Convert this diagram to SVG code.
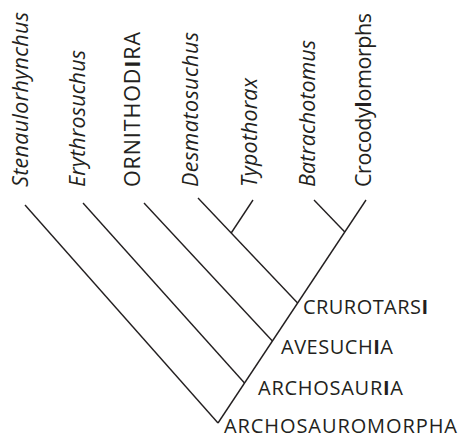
<svg xmlns="http://www.w3.org/2000/svg" width="460" height="438" viewBox="0 0 460 438">
<style>
.bg{fill:#ffffff}
.ln{stroke:#231f20;stroke-width:1.4;fill:none;stroke-linecap:butt}
.lbl{font-family:"Open Sans","Liberation Sans",sans-serif;fill:#231f20}
.tax{font-size:21.5px}
.it{font-style:italic}
.clade{font-size:20px}
.b{font-weight:bold}
</style>
<rect class="bg" x="0" y="0" width="460" height="438"/>
<g id="connectors">
<line class="ln" x1="218" y1="423" x2="366" y2="200"/>
<line class="ln" x1="25" y1="205" x2="218" y2="423"/>
<line class="ln" x1="83" y1="203" x2="244.5" y2="383"/>
<line class="ln" x1="144" y1="203" x2="272.4" y2="341"/>
<line class="ln" x1="198" y1="198" x2="297.6" y2="303"/>
<line class="ln" x1="253" y1="200" x2="231.2" y2="233"/>
<line class="ln" x1="314" y1="200" x2="344.8" y2="232"/>
</g>
<g id="stenaulorhynchus"><text class="lbl tax it" transform="translate(28,187) rotate(-90)" textLength="175" lengthAdjust="spacing">Stenaulorhynchus</text></g>
<g id="erythrosuchus"><text class="lbl tax it" transform="translate(85,187) rotate(-90)" textLength="137" lengthAdjust="spacing">Erythrosuchus</text></g>
<g id="ornithodira"><text class="lbl tax" transform="translate(140,187) rotate(-90)" textLength="155" lengthAdjust="spacing">ORNITHOD<tspan class="b">I</tspan>RA</text></g>
<g id="desmatosuchus"><text class="lbl tax it" transform="translate(198,187) rotate(-90)" textLength="155" lengthAdjust="spacing">Desmatosuchus</text></g>
<g id="typothorax"><text class="lbl tax it" transform="translate(257,187) rotate(-90)" textLength="109" lengthAdjust="spacing">Typothorax</text></g>
<g id="batrachotomus"><text class="lbl tax it" transform="translate(315,187) rotate(-90)" textLength="147" lengthAdjust="spacing">Batrachotomus</text></g>
<g id="crocodylomorphs"><text class="lbl tax" transform="translate(371,187) rotate(-90)" textLength="174" lengthAdjust="spacing">Crocody<tspan class="b">l</tspan>omorphs</text></g>
<g id="crurotarsi"><text class="lbl clade" x="303" y="314" textLength="125" lengthAdjust="spacing">CRUROTARS<tspan class="b">I</tspan></text></g>
<g id="avesuchia"><text class="lbl clade" x="281" y="354" textLength="112" lengthAdjust="spacing">AVESUCH<tspan class="b">I</tspan>A</text></g>
<g id="archosauria"><text class="lbl clade" x="258" y="395" textLength="145" lengthAdjust="spacing">ARCHOSAUR<tspan class="b">I</tspan>A</text></g>
<g id="archosauromorpha"><text class="lbl clade" x="224" y="433" textLength="233" lengthAdjust="spacing">ARCHOSAUROMORPHA</text></g>
</svg>
